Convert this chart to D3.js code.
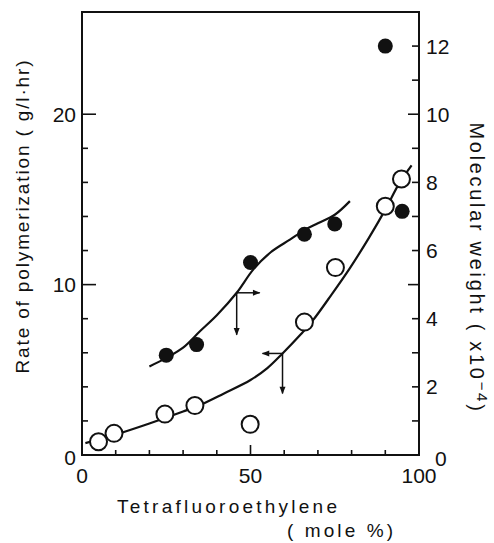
<!DOCTYPE html>
<html>
<head>
<meta charset="utf-8">
<script src="https://cdn.jsdelivr.net/npm/d3@7"></script>
<style>
  body { margin: 0; background: #fff; }
  svg text { font-family: "Liberation Sans", Arial, sans-serif; fill: #111; }
</style>
</head>
<body>
<div id="chart"></div>
<script>
// molecular weight points (filled, right axis, x10^-4)
var mwX = [25, 34, 50, 66, 75, 90, 95];
var mwY = [2.93, 3.24, 5.65, 6.48, 6.78, 12.0, 7.15];
// rate of polymerization points (open, left axis, g/l.hr)
var rateX = [4.9, 9.5, 24.6, 33.5, 49.9, 66, 75.2, 90, 94.8];
var rateY = [0.78, 1.27, 2.4, 2.9, 1.8, 7.8, 11.0, 14.6, 16.2];
// hand drawn fit curves
var mwCurveX = [20, 25, 30, 35, 40, 45.9, 50.8, 56, 61.7, 66, 70, 75, 79.5];
var mwCurveY = [2.6, 2.85, 3.15, 3.63, 4.1, 4.76, 5.44, 5.95, 6.32, 6.6, 6.8, 7.05, 7.45];
var rateCurveX = [1, 10, 20, 30, 35, 42, 50, 55, 59.5, 65, 68.5, 74, 79.5, 85, 90, 94, 97.8];
var rateCurveY = [0.7, 1.2, 1.85, 2.55, 2.93, 3.6, 4.4, 5.1, 5.96, 7.1, 7.9, 9.4, 10.97, 12.7, 14.4, 15.9, 17.0];
// arrows telling which axis each curve uses
var arrowX = [45.9, 59.5];
var arrowY = [4.76, 5.96];   // first on right axis, second on left axis

var xTicks = [0, 10, 20, 30, 40, 50, 60, 70, 80, 90, 100];
var xLabels = [0, 50, 100];
var leftTicks = [0, 2, 4, 6, 8, 10, 12, 14, 16, 18, 20];
var leftLabels = [0, 10, 20];
var rightTicks = [0, 1, 2, 3, 4, 5, 6, 7, 8, 9, 10, 11, 12];
var rightLabels = [0, 2, 4, 6, 8, 10, 12];

var W = 494, H = 543;
var svg = d3.select("#chart").append("svg").attr("width", W).attr("height", H);

var x = d3.scaleLinear().domain([0, 100]).range([82, 419]);
var yL = d3.scaleLinear().domain([0, 26]).range([455, 12]);
var yR = d3.scaleLinear().domain([0, 13]).range([455, 12]);

// frame
svg.append("rect")
  .attr("x", x(0)).attr("y", yL(26))
  .attr("width", x(100) - x(0)).attr("height", yL(0) - yL(26))
  .attr("fill", "none").attr("stroke", "#111").attr("stroke-width", 2);

// ticks, drawn inward
var tickG = svg.append("g").attr("stroke", "#111").attr("stroke-width", 1.6);
tickG.selectAll(".xt").data(xTicks.slice(1, -1)).enter().append("line")
  .attr("x1", d => x(d)).attr("x2", d => x(d))
  .attr("y1", yL(0)).attr("y2", d => yL(0) - (d == 50 ? 10 : 5));
tickG.selectAll(".lt").data(leftTicks.slice(1)).enter().append("line")
  .attr("x1", x(0)).attr("x2", d => x(0) + (d % 10 == 0 ? 14 : 6))
  .attr("y1", d => yL(d)).attr("y2", d => yL(d));
tickG.selectAll(".rt").data(rightTicks.slice(1)).enter().append("line")
  .attr("x1", x(100)).attr("x2", d => x(100) - (d % 5 == 0 ? 11 : 7))
  .attr("y1", d => yR(d)).attr("y2", d => yR(d));

// tick labels
svg.selectAll(".xl").data(xLabels).enter().append("text")
  .attr("x", d => x(d)).attr("y", 483)
  .attr("text-anchor", "middle").attr("font-size", 21)
  .text(d => d);
svg.selectAll(".ll").data(leftLabels).enter().append("text")
  .attr("x", 76).attr("y", d => yL(d) + 7.5 + (d == 0 ? 2 : 0))
  .attr("text-anchor", "end").attr("font-size", 21)
  .text(d => d);
svg.selectAll(".rl").data(rightLabels).enter().append("text")
  .attr("x", d => d == 0 ? 435 : 426).attr("y", d => yR(d) + 7.5 + (d == 0 ? 3 : 0))
  .attr("text-anchor", "start").attr("font-size", 21)
  .text(d => d);

// axis titles
svg.append("text")
  .attr("transform", "translate(29,217) rotate(-90)")
  .attr("text-anchor", "middle").attr("font-size", 19)
  .attr("textLength", 313).attr("lengthAdjust", "spacing")
  .text("Rate of polymerization ( g/l\u00b7hr)");

var rt = svg.append("text")
  .attr("transform", "translate(470,268) rotate(90)")
  .attr("text-anchor", "middle").attr("font-size", 20);
rt.append("tspan").text("Molecular  weight  ( x10");
rt.append("tspan").attr("dy", -7).attr("font-size", 15).text("\u22124");
rt.append("tspan").attr("dy", 7).text(")");
// stretch the right title to the width seen in the picture
var rtLen = rt.node().getComputedTextLength();
rt.attr("letter-spacing", (291 - rtLen) / 25);

svg.append("text")
  .attr("x", 227).attr("y", 513).attr("text-anchor", "middle")
  .attr("font-size", 19).attr("textLength", 220).attr("lengthAdjust", "spacing")
  .text("Tetrafluoroethylene");
svg.append("text")
  .attr("x", 340).attr("y", 537).attr("text-anchor", "middle")
  .attr("font-size", 19).attr("textLength", 106).attr("lengthAdjust", "spacing")
  .text("( mole %)");

// fit curves
var mwLine = d3.line().x(d => x(d[0])).y(d => yR(d[1])).curve(d3.curveCatmullRom);
var rateLine = d3.line().x(d => x(d[0])).y(d => yL(d[1])).curve(d3.curveCatmullRom);
svg.append("path").datum(d3.zip(mwCurveX, mwCurveY))
  .attr("d", mwLine).attr("fill", "none").attr("stroke", "#111").attr("stroke-width", 2.2);
svg.append("path").datum(d3.zip(rateCurveX, rateCurveY))
  .attr("d", rateLine).attr("fill", "none").attr("stroke", "#111").attr("stroke-width", 2.2);

// arrows
var defs = svg.append("defs");
defs.append("marker").attr("id", "head")
  .attr("viewBox", "0 0 10 10").attr("refX", 9).attr("refY", 5)
  .attr("markerWidth", 7).attr("markerHeight", 5).attr("orient", "auto")
  .append("path").attr("d", "M0,1 L10,5 L0,9 z").attr("fill", "#111");

var arrowPts = [[x(arrowX[0]), yR(arrowY[0]), 1, 23, 42], [x(arrowX[1]), yL(arrowY[1]), -1, 20, 40]];
var arrowG = svg.append("g").attr("stroke", "#111").attr("stroke-width", 1.5);
arrowPts.forEach(a => {
  arrowG.append("line").attr("x1", a[0]).attr("y1", a[1])
    .attr("x2", a[0] + a[2] * a[3]).attr("y2", a[1]).attr("marker-end", "url(#head)");
  arrowG.append("line").attr("x1", a[0]).attr("y1", a[1])
    .attr("x2", a[0]).attr("y2", a[1] + a[4]).attr("marker-end", "url(#head)");
});

// points
svg.selectAll(".mw").data(d3.zip(mwX, mwY)).enter().append("circle")
  .attr("cx", d => x(d[0])).attr("cy", d => yR(d[1])).attr("r", 7.5)
  .attr("fill", "#111");
svg.selectAll(".rate").data(d3.zip(rateX, rateY)).enter().append("circle")
  .attr("cx", d => x(d[0])).attr("cy", d => yL(d[1])).attr("r", 8.5)
  .attr("fill", "#fff").attr("stroke", "#111").attr("stroke-width", 2);
</script>
</body>
</html>
